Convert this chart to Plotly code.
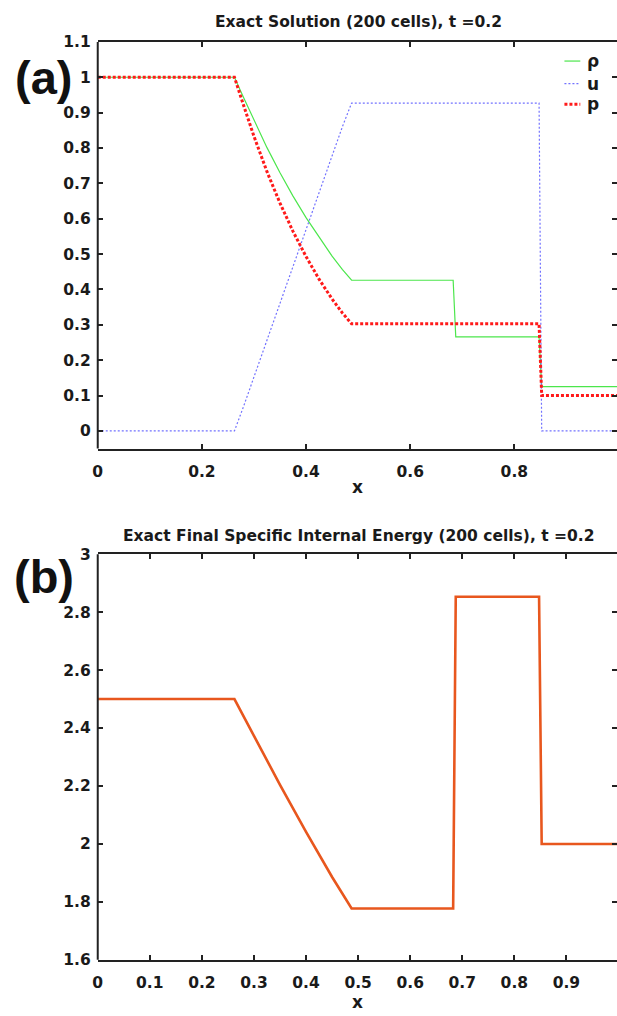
import plotly.graph_objects as go

# Sod shock tube, exact solution sampled on 200 cells at t = 0.2
x_a = [0.0, 0.2625, 0.28, 0.30, 0.325, 0.35, 0.375, 0.40, 0.425, 0.45, 0.47,
       0.4875, 0.6825, 0.6875, 0.8475, 0.8525, 1.0]
rho = [1.0, 1.0, 0.943, 0.878, 0.801, 0.730, 0.664, 0.603, 0.547, 0.494, 0.456,
       0.426, 0.426, 0.266, 0.266, 0.125, 0.125]
vel = [0.0, 0.0, 0.069, 0.153, 0.257, 0.361, 0.465, 0.569, 0.674, 0.778, 0.861,
       0.927, 0.927, 0.927, 0.927, 0.0, 0.0]
pres = [1.0, 1.0, 0.921, 0.833, 0.733, 0.644, 0.564, 0.493, 0.429, 0.373, 0.333,
        0.303, 0.303, 0.303, 0.303, 0.1, 0.1]

x_b = [0.0, 0.2625, 0.30, 0.35, 0.40, 0.45, 0.4875, 0.6825, 0.6875, 0.8475, 0.8525, 1.0]
energy = [2.5, 2.5, 2.373, 2.204, 2.042, 1.886, 1.777, 1.777, 2.853, 2.853, 2.0, 2.0]

xticks_a = [0, 0.2, 0.4, 0.6, 0.8, 1.0]
yticks_a = [round(0.1 * i, 1) for i in range(12)]
xticks_b = [round(0.1 * i, 1) for i in range(11)]
yticks_b = [1.6, 1.8, 2.0, 2.2, 2.4, 2.6, 2.8, 3.0]

W, H = 617, 1016
AX = "#222222"
TXT = "#1a1a1a"
TICK_FONT = dict(family="DejaVu Sans", size=15.5, color=TXT, weight="bold")


def px(v):
    return v / W


def py(v):
    return 1 - v / H


fig = go.Figure()

fig.add_trace(go.Scatter(x=x_a, y=rho, mode="lines", name="ρ",
                         line=dict(color="#4ce64c", width=1.2),
                         xaxis="x", yaxis="y"))
fig.add_trace(go.Scatter(x=x_a, y=vel, mode="lines", name="u",
                         line=dict(color="#7272ff", width=1.2, dash="2px,2px"),
                         xaxis="x", yaxis="y"))
fig.add_trace(go.Scatter(x=x_a, y=pres, mode="lines", name="p",
                         line=dict(color="#ff1a1a", width=3, dash="3px,2px"),
                         xaxis="x", yaxis="y"))
fig.add_trace(go.Scatter(x=x_b, y=energy, mode="lines", name="e",
                         line=dict(color="#e8571e", width=2.6),
                         xaxis="x2", yaxis="y2"))

x_left = 93.5
x_right_val = (W - x_left) / 525.0

common_x = dict(range=[0, x_right_val], showline=True, mirror="ticks",
                linecolor=AX, linewidth=2, ticks="inside", ticklen=5,
                tickwidth=2, tickcolor=AX, showgrid=False, zeroline=False,
                tickfont=TICK_FONT, ticklabelstandoff=8)
common_y = dict(showline=False, mirror="ticks", ticks="inside", ticklen=5,
                tickwidth=2, tickcolor=AX, showgrid=False, zeroline=False,
                tickfont=TICK_FONT, ticklabelstandoff=6)

fig.update_layout(
    width=W, height=H,
    margin=dict(l=0, r=0, t=0, b=0),
    paper_bgcolor="white", plot_bgcolor="white",
    showlegend=False,
    xaxis=dict(common_x, domain=[px(x_left), 1], anchor="y",
               tickvals=xticks_a, ticktext=[f"{v:g}" for v in xticks_a],
               title=dict(text="x", font=dict(family="DejaVu Sans", size=17,
                                               color=TXT, weight="bold"),
                          standoff=1)),
    yaxis=dict(common_y, domain=[py(447.5), py(33.5)], anchor="x",
               range=[-0.05, 1.1], tickvals=yticks_a,
               ticktext=[f"{v:g}" for v in yticks_a]),
    xaxis2=dict(common_x, domain=[px(x_left), 1], anchor="y2",
                tickvals=xticks_b, ticktext=[f"{v:g}" for v in xticks_b],
                title=dict(text="x", font=dict(family="DejaVu Sans", size=17,
                                                color=TXT, weight="bold"),
                           standoff=1)),
    yaxis2=dict(common_y, domain=[py(968), py(555)], anchor="x2",
                range=[1.6, 3.0], tickvals=yticks_b,
                ticktext=[f"{v:g}" for v in yticks_b]),
)

# left frame edges
for xr, yr in (("x domain", "y domain"), ("x2 domain", "y2 domain")):
    fig.add_shape(type="line", xref=xr, yref=yr, x0=0, x1=0, y0=0, y1=1,
                  line=dict(color=AX, width=2))

# panel titles
fig.add_annotation(text="Exact Solution (200 cells), t =0.2", xref="paper",
                   yref="paper", x=px(356), y=py(13), showarrow=False,
                   xanchor="center", yanchor="middle",
                   font=dict(family="DejaVu Sans", size=15.5, color=TXT, weight="bold"))
fig.add_annotation(text="Exact Final Specific Internal Energy (200 cells), t =0.2",
                   xref="paper", yref="paper", x=px(356), y=py(536),
                   showarrow=False, xanchor="center", yanchor="middle",
                   font=dict(family="DejaVu Sans", size=15.5, color=TXT, weight="bold"))

# panel letters
for label, yc in (("(a)", 70), ("(b)", 578)):
    fig.add_annotation(text=label, xref="paper", yref="paper", x=px(39), y=py(yc),
                       showarrow=False, xanchor="center", yanchor="middle",
                       font=dict(family="Liberation Sans", size=47, color="#111111",
                                 weight="bold"))

# legend for panel (a)
legend_rows = [
    ("ρ", 53, "#4ce64c", 1.2, "solid"),
    ("u", 76, "#7272ff", 1.2, "2px,2px"),
    ("p", 97, "#ff1a1a", 3, "3px,2px"),
]
for name, yrow, color, width, dash in legend_rows:
    fig.add_shape(type="line", xref="paper", yref="paper",
                  x0=px(564), x1=px(580), y0=py(yrow), y1=py(yrow),
                  line=dict(color=color, width=width, dash=dash))
    fig.add_annotation(text=name, xref="paper", yref="paper", x=px(585),
                       y=py(yrow), showarrow=False, xanchor="left",
                       yanchor="middle",
                       font=dict(family="DejaVu Sans", size=17, color=TXT,
                                 weight="bold"))

fig.write_html("out.html")
